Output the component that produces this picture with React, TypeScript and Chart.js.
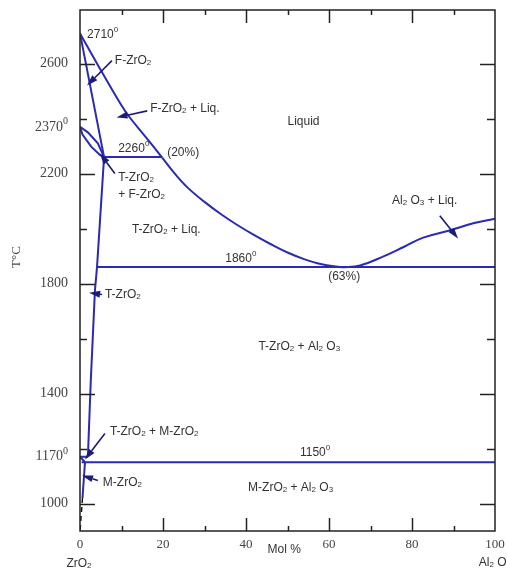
import { useEffect, useRef } from "react";
import { Chart, registerables } from "chart.js";

Chart.register(...registerables);

type P = [number, number];

// ---- axes ----
const X_MIN = 0;
const X_MAX = 100;
const Y_MIN = 900;
const Y_MAX = 2795;
const xLabelTicks = [0, 20, 40, 60, 80, 100];
const xMajorMarks = [20, 40, 60, 80];
const xMinorMarks = [10, 30, 50, 70, 90];
const yLabelTicks = [1000, 1400, 1800, 2200, 2600];
const yMinorMarks = [1200, 1600, 2000, 2400];
const ySpecialLabels: { value: number; text: string }[] = [
  { value: 2370, text: "2370^0" },
  { value: 1170, text: "1170^0" },
];

// ---- phase boundaries (mol % Al2O3, temperature) ----
const liquidusUpper: P[] = [
  [0, 2710], [4.3, 2595], [9.9, 2450], [12, 2404], [16, 2330], [19.8, 2258],
];
const liquidusLower: P[] = [
  [19.8, 2258], [23, 2197], [26, 2148], [30, 2097], [34, 2052], [38, 2012],
  [42, 1976], [46, 1943], [50, 1913], [54, 1889], [58, 1871], [63, 1859],
];
const liquidusAl2O3: P[] = [
  [63, 1859], [67.5, 1866], [73, 1898], [78, 1933], [82.7, 1967],
  [89, 1993], [95, 2020], [100, 2036],
];
const fSolidus: P[] = [[0, 2710], [5.8, 2260]];
const lensUpper: P[] = [[0, 2370], [1.9, 2350], [4.3, 2310], [5.8, 2260]];
const lensLower: P[] = [[0, 2370], [0.6, 2342], [2.7, 2298], [4.8, 2268], [5.8, 2260]];
const peritectic: P[] = [[5.8, 2260], [19.8, 2260]];
const tSolvus: P[] = [[5.8, 2260], [4.1, 1860], [3.6, 1775], [2.6, 1447], [1.9, 1170]];
const eutectic: P[] = [[4.1, 1860], [100, 1860]];
const eutectoid: P[] = [[0.4, 1150], [100, 1150]];
const tmUpper: P[] = [[0, 1170], [1.9, 1170]];
const tmLower: P[] = [[0, 1170], [1.2, 1150]];
const mSolvus: P[] = [[1.2, 1150], [0.6, 1020]];
const mSolvusDashed: P[] = [[0.6, 1020], [0, 900]];

// ---- leader arrows [fromX, fromY, toX, toY] ----
const arrows: [number, number, number, number][] = [
  [7.7, 2611, 1.7, 2520],
  [16.2, 2428, 8.8, 2404],
  [8.4, 2200, 4.8, 2273],
  [5.3, 1760, 2.2, 1767],
  [6.0, 1255, 1.2, 1160],
  [4.3, 1084, 0.5, 1102],
  [86.7, 2047, 91.1, 1964],
];

// ---- region / point labels ----
const labels: { text: string; x: number; y: number }[] = [
  { text: "2710^0", x: 1.7, y: 2705 },
  { text: "F-ZrO_2", x: 8.4, y: 2611 },
  { text: "F-ZrO_2 + Liq.", x: 16.9, y: 2435 },
  { text: "2260^0", x: 9.2, y: 2291 },
  { text: "(20%)", x: 21, y: 2276 },
  { text: "T-ZrO_2", x: 9.2, y: 2185 },
  { text: "+ F-ZrO_2", x: 9.2, y: 2124 },
  { text: "T-ZrO_2 + Liq.", x: 12.5, y: 1996 },
  { text: "Liquid", x: 50, y: 2389 },
  { text: "1860^0", x: 35, y: 1891 },
  { text: "(63%)", x: 59.8, y: 1825 },
  { text: "Al_2 O_3 + Liq.", x: 75.2, y: 2102 },
  { text: "T-ZrO_2", x: 6.0, y: 1760 },
  { text: "T-ZrO_2 + Al_2 O_3", x: 43.0, y: 1571 },
  { text: "T-ZrO_2 + M-ZrO_2", x: 7.2, y: 1262 },
  { text: "1150^0", x: 53, y: 1185 },
  { text: "M-ZrO_2", x: 5.5, y: 1076 },
  { text: "M-ZrO_2 + Al_2 O_3", x: 40.5, y: 1058 },
];

const xTitle = "Mol %";
const yTitle = "T°C";
const leftEndLabel = "ZrO_2";
const rightEndLabel = "Al_2 O_3";

const SERIF = "'Liberation Serif', 'Times New Roman', serif";
const SANS = "'Liberation Sans', Arial, sans-serif";
const BLUE = "#2a2ab4";
const ARROW = "#1b1b78";
const TEXT = "#333333";
const TICK_TEXT = "#444444";

type Seg = { t: string; k: 0 | 1 | 2 };
function parseRich(s: string): Seg[] {
  const segs: Seg[] = [];
  let cur = "";
  let i = 0;
  while (i < s.length) {
    const c = s[i];
    if ((c === "_" || c === "^") && i + 1 < s.length) {
      if (cur) segs.push({ t: cur, k: 0 });
      cur = "";
      segs.push({ t: s[i + 1], k: c === "_" ? 1 : 2 });
      i += 2;
    } else {
      cur += c;
      i++;
    }
  }
  if (cur) segs.push({ t: cur, k: 0 });
  return segs;
}

function drawRich(
  ctx: CanvasRenderingContext2D,
  s: string,
  x: number,
  y: number,
  size: number,
  family: string,
  align: "left" | "center" | "right" = "left"
) {
  const segs = parseRich(s);
  const fontFor = (k: number) => `${k ? Math.round(size * 0.68) : size}px ${family}`;
  let w = 0;
  for (const g of segs) {
    ctx.font = fontFor(g.k);
    w += ctx.measureText(g.t).width;
  }
  let cx = align === "center" ? x - w / 2 : align === "right" ? x - w : x;
  ctx.textAlign = "left";
  ctx.textBaseline = "middle";
  for (const g of segs) {
    ctx.font = fontFor(g.k);
    const dy = g.k === 1 ? size * 0.18 : g.k === 2 ? -size * 0.42 : 0;
    ctx.fillText(g.t, cx, y + dy);
    cx += ctx.measureText(g.t).width;
  }
}

const decor = {
  id: "decor",
  afterDatasetsDraw(chart: any) {
    const { ctx, chartArea: a, scales } = chart;
    const xs = scales.x;
    const ys = scales.y;
    const px = (v: number) => xs.getPixelForValue(v);
    const py = (v: number) => ys.getPixelForValue(v);
    ctx.save();

    // leader arrows
    ctx.strokeStyle = ARROW;
    ctx.fillStyle = ARROW;
    ctx.lineWidth = 1.6;
    for (const [x1, y1, x2, y2] of arrows) {
      const ax = px(x1), ay = py(y1), bx = px(x2), by = py(y2);
      const ang = Math.atan2(by - ay, bx - ax);
      const L = 11, W = 3.5;
      const baseX = bx - L * Math.cos(ang), baseY = by - L * Math.sin(ang);
      ctx.beginPath();
      ctx.moveTo(ax, ay);
      ctx.lineTo(baseX, baseY);
      ctx.stroke();
      ctx.beginPath();
      ctx.moveTo(bx, by);
      ctx.lineTo(baseX + W * Math.sin(ang), baseY - W * Math.cos(ang));
      ctx.lineTo(baseX - W * Math.sin(ang), baseY + W * Math.cos(ang));
      ctx.closePath();
      ctx.fill();
    }

    // frame
    ctx.strokeStyle = "#222";
    ctx.lineWidth = 1.5;
    ctx.strokeRect(a.left, a.top, a.right - a.left, a.bottom - a.top);

    // inward tick marks
    ctx.beginPath();
    for (const v of yLabelTicks) {
      const y = Math.round(py(v)) + 0.5;
      ctx.moveTo(a.left, y); ctx.lineTo(a.left + 15, y);
      ctx.moveTo(a.right, y); ctx.lineTo(a.right - 15, y);
    }
    for (const v of yMinorMarks) {
      const y = Math.round(py(v)) + 0.5;
      ctx.moveTo(a.left, y); ctx.lineTo(a.left + 7, y);
      ctx.moveTo(a.right, y); ctx.lineTo(a.right - 8, y);
    }
    for (const v of xMajorMarks) {
      const x = Math.round(px(v)) + 0.5;
      ctx.moveTo(x, a.bottom); ctx.lineTo(x, a.bottom - 13);
      ctx.moveTo(x, a.top); ctx.lineTo(x, a.top + 13);
    }
    for (const v of xMinorMarks) {
      const x = Math.round(px(v)) + 0.5;
      ctx.moveTo(x, a.bottom); ctx.lineTo(x, a.bottom - 5);
      ctx.moveTo(x, a.top); ctx.lineTo(x, a.top + 5);
    }
    ctx.stroke();

    // special y labels
    ctx.fillStyle = TICK_TEXT;
    for (const s of ySpecialLabels) {
      drawRich(ctx, s.text, a.left - 12, py(s.value), 14, SERIF, "right");
    }

    // region labels
    ctx.fillStyle = TEXT;
    for (const l of labels) {
      drawRich(ctx, l.text, px(l.x), py(l.y), 12, SANS, "left");
    }

    // axis end labels and titles
    drawRich(ctx, leftEndLabel, px(0) - 1, a.bottom + 33, 12, SANS, "center");
    drawRich(ctx, rightEndLabel, px(96.1), a.bottom + 32, 12, SANS, "left");
    drawRich(ctx, xTitle, px(49.2), a.bottom + 19, 12, SANS, "center");

    ctx.fillStyle = TICK_TEXT;
    ctx.translate(17, 257);
    ctx.rotate(-Math.PI / 2);
    ctx.font = `13px ${SERIF}`;
    ctx.textAlign = "center";
    ctx.textBaseline = "middle";
    ctx.fillText(yTitle, 0, 0);

    ctx.restore();
  },
};

const mk = (data: P[], extra: Record<string, unknown> = {}) => ({
  data: data.map(([x, y]) => ({ x, y })),
  showLine: true,
  borderColor: BLUE,
  borderWidth: 2,
  pointRadius: 0,
  fill: false,
  tension: 0,
  ...extra,
});

const smooth = { tension: 0.4 };

export default function App() {
  const ref = useRef<HTMLCanvasElement>(null);
  useEffect(() => {
    if (!ref.current) return;
    const chart = new Chart(ref.current, {
      type: "scatter",
      data: {
        datasets: [
          mk(liquidusUpper, smooth),
          mk(liquidusLower, smooth),
          mk(liquidusAl2O3, smooth),
          mk(fSolidus),
          mk(lensUpper),
          mk(lensLower),
          mk(peritectic),
          mk(tSolvus),
          mk(eutectic),
          mk(eutectoid),
          mk(tmUpper),
          mk(tmLower),
          mk(mSolvus),
          mk(mSolvusDashed, { borderColor: "#111", borderWidth: 1.5, borderDash: [5, 4] }),
        ] as any,
      },
      options: {
        animation: false,
        responsive: false,
        maintainAspectRatio: false,
        layout: { padding: { top: 10, right: 12, left: 0, bottom: 0 } },
        plugins: {
          legend: { display: false },
          tooltip: { enabled: false },
        },
        scales: {
          x: {
            type: "linear",
            min: X_MIN,
            max: X_MAX,
            grid: { display: false, drawTicks: false },
            border: { display: false },
            ticks: {
              padding: 6,
              color: TICK_TEXT,
              font: { family: SERIF, size: 13 },
              maxRotation: 0,
              autoSkip: false,
              callback: (v: any) => String(v),
            },
            afterBuildTicks: (s: any) => {
              s.ticks = xLabelTicks.map((v) => ({ value: v }));
            },
            afterFit: (s: any) => {
              s.height = 40;
              s.paddingLeft = 0;
              s.paddingRight = 0;
            },
          },
          y: {
            type: "linear",
            min: Y_MIN,
            max: Y_MAX,
            grid: { display: false, drawTicks: false },
            border: { display: false },
            ticks: {
              padding: 12,
              color: TICK_TEXT,
              font: { family: SERIF, size: 14 },
              autoSkip: false,
              callback: (v: any) => String(v),
            },
            afterBuildTicks: (s: any) => {
              s.ticks = yLabelTicks.map((v) => ({ value: v }));
            },
            afterFit: (s: any) => {
              s.width = 80;
              s.paddingTop = 0;
              s.paddingBottom = 0;
            },
          },
        } as any,
      },
      plugins: [decor],
    });
    return () => chart.destroy();
  }, []);
  return (
    <canvas
      ref={ref}
      width={507}
      height={571}
      style={{ position: "absolute", left: 0, top: 0, background: "#fff" }}
    />
  );
}
